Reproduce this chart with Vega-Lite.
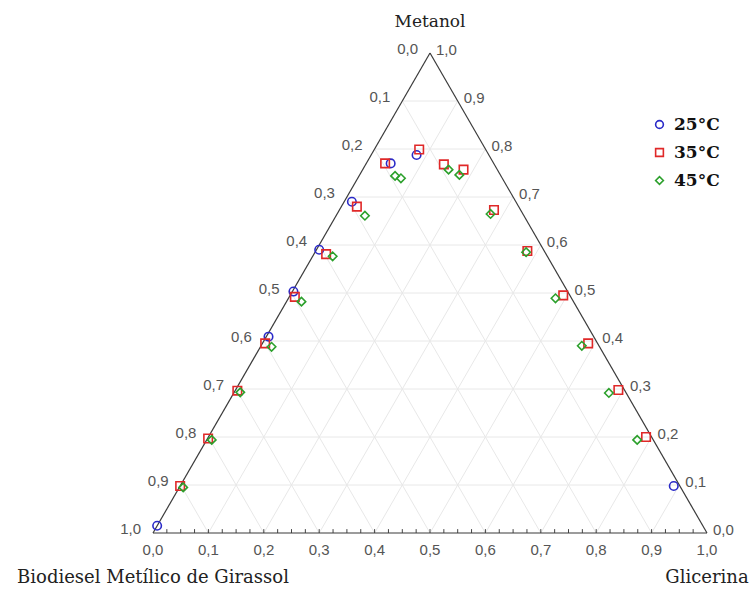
{
  "$schema": "https://vega.github.io/schema/vega-lite/v6.json",
  "width": 749,
  "height": 590,
  "autosize": {"type": "none"},
  "padding": 0,
  "background": "white",
  "config": {"view": {"stroke": null}},
  "datasets": {
    "points": [
      {"t": "25°C", "m": 0.015, "g": 0.0},
      {"t": "25°C", "m": 0.409, "g": 0.004},
      {"t": "25°C", "m": 0.503, "g": 0.002},
      {"t": "25°C", "m": 0.590, "g": 0.005},
      {"t": "25°C", "m": 0.690, "g": 0.014},
      {"t": "25°C", "m": 0.770, "g": 0.044},
      {"t": "25°C", "m": 0.7875, "g": 0.082},
      {"t": "25°C", "m": 0.098, "g": 0.891},
      {"t": "35°C", "m": 0.098, "g": 0.0},
      {"t": "35°C", "m": 0.197, "g": 0.001},
      {"t": "35°C", "m": 0.2965, "g": 0.004},
      {"t": "35°C", "m": 0.395, "g": 0.005},
      {"t": "35°C", "m": 0.492, "g": 0.010},
      {"t": "35°C", "m": 0.581, "g": 0.022},
      {"t": "35°C", "m": 0.680, "g": 0.028},
      {"t": "35°C", "m": 0.770, "g": 0.034},
      {"t": "35°C", "m": 0.799, "g": 0.081},
      {"t": "35°C", "m": 0.768, "g": 0.141},
      {"t": "35°C", "m": 0.757, "g": 0.182},
      {"t": "35°C", "m": 0.673, "g": 0.279},
      {"t": "35°C", "m": 0.5875, "g": 0.382},
      {"t": "35°C", "m": 0.495, "g": 0.493},
      {"t": "35°C", "m": 0.395, "g": 0.588},
      {"t": "35°C", "m": 0.298, "g": 0.691},
      {"t": "35°C", "m": 0.200, "g": 0.790},
      {"t": "45°C", "m": 0.095, "g": 0.007},
      {"t": "45°C", "m": 0.194, "g": 0.009},
      {"t": "45°C", "m": 0.293, "g": 0.011},
      {"t": "45°C", "m": 0.388, "g": 0.020},
      {"t": "45°C", "m": 0.482, "g": 0.027},
      {"t": "45°C", "m": 0.5765, "g": 0.036},
      {"t": "45°C", "m": 0.661, "g": 0.052},
      {"t": "45°C", "m": 0.744, "g": 0.065},
      {"t": "45°C", "m": 0.739, "g": 0.078},
      {"t": "45°C", "m": 0.757, "g": 0.155},
      {"t": "45°C", "m": 0.746, "g": 0.180},
      {"t": "45°C", "m": 0.6646, "g": 0.277},
      {"t": "45°C", "m": 0.585, "g": 0.381},
      {"t": "45°C", "m": 0.489, "g": 0.482},
      {"t": "45°C", "m": 0.390, "g": 0.579},
      {"t": "45°C", "m": 0.2917, "g": 0.677},
      {"t": "45°C", "m": 0.194, "g": 0.777}
    ],
    "grid": [
      {"m1": 0.1, "g1": 0, "m2": 0.1, "g2": 0.9},
      {"m1": 0.2, "g1": 0, "m2": 0.2, "g2": 0.8},
      {"m1": 0.3, "g1": 0, "m2": 0.3, "g2": 0.7},
      {"m1": 0.4, "g1": 0, "m2": 0.4, "g2": 0.6},
      {"m1": 0.5, "g1": 0, "m2": 0.5, "g2": 0.5},
      {"m1": 0.6, "g1": 0, "m2": 0.6, "g2": 0.4},
      {"m1": 0.7, "g1": 0, "m2": 0.7, "g2": 0.3},
      {"m1": 0.8, "g1": 0, "m2": 0.8, "g2": 0.2},
      {"m1": 0.9, "g1": 0, "m2": 0.9, "g2": 0.1},
      {"m1": 0, "g1": 0.1, "m2": 0.9, "g2": 0.1},
      {"m1": 0, "g1": 0.2, "m2": 0.8, "g2": 0.2},
      {"m1": 0, "g1": 0.3, "m2": 0.7, "g2": 0.3},
      {"m1": 0, "g1": 0.4, "m2": 0.6, "g2": 0.4},
      {"m1": 0, "g1": 0.5, "m2": 0.5, "g2": 0.5},
      {"m1": 0, "g1": 0.6, "m2": 0.4, "g2": 0.6},
      {"m1": 0, "g1": 0.7, "m2": 0.3, "g2": 0.7},
      {"m1": 0, "g1": 0.8, "m2": 0.2, "g2": 0.8},
      {"m1": 0, "g1": 0.9, "m2": 0.1, "g2": 0.9},
      {"m1": 0, "g1": 0.9, "m2": 0.9, "g2": 0},
      {"m1": 0, "g1": 0.8, "m2": 0.8, "g2": 0},
      {"m1": 0, "g1": 0.7, "m2": 0.7, "g2": 0},
      {"m1": 0, "g1": 0.6, "m2": 0.6, "g2": 0},
      {"m1": 0, "g1": 0.5, "m2": 0.5, "g2": 0},
      {"m1": 0, "g1": 0.4, "m2": 0.4, "g2": 0},
      {"m1": 0, "g1": 0.3, "m2": 0.3, "g2": 0},
      {"m1": 0, "g1": 0.2, "m2": 0.2, "g2": 0},
      {"m1": 0, "g1": 0.1, "m2": 0.1, "g2": 0}
    ],
    "edges": [
      {"m1": 0, "g1": 0, "m2": 1, "g2": 0},
      {"m1": 0, "g1": 0, "m2": 0, "g2": 1},
      {"m1": 0, "g1": 1, "m2": 1, "g2": 0}
    ],
    "minor": [
      {"g": 0.025}, {"g": 0.05}, {"g": 0.075}, {"g": 0.1}, {"g": 0.125}, {"g": 0.15}, {"g": 0.175}, {"g": 0.2},
      {"g": 0.225}, {"g": 0.25}, {"g": 0.275}, {"g": 0.3}, {"g": 0.325}, {"g": 0.35}, {"g": 0.375}, {"g": 0.4},
      {"g": 0.425}, {"g": 0.45}, {"g": 0.475}, {"g": 0.5}, {"g": 0.525}, {"g": 0.55}, {"g": 0.575}, {"g": 0.6},
      {"g": 0.625}, {"g": 0.65}, {"g": 0.675}, {"g": 0.7}, {"g": 0.725}, {"g": 0.75}, {"g": 0.775}, {"g": 0.8},
      {"g": 0.825}, {"g": 0.85}, {"g": 0.875}, {"g": 0.9}, {"g": 0.925}, {"g": 0.95}, {"g": 0.975}
    ],
    "ticks": [
      {"k": 0.0, "label": "0,0"},
      {"k": 0.1, "label": "0,1"},
      {"k": 0.2, "label": "0,2"},
      {"k": 0.3, "label": "0,3"},
      {"k": 0.4, "label": "0,4"},
      {"k": 0.5, "label": "0,5"},
      {"k": 0.6, "label": "0,6"},
      {"k": 0.7, "label": "0,7"},
      {"k": 0.8, "label": "0,8"},
      {"k": 0.9, "label": "0,9"},
      {"k": 1.0, "label": "1,0"}
    ]
  },
  "layer": [
    {
      "data": {"name": "grid"},
      "transform": [
        {"calculate": "datum.g1 + datum.m1/2", "as": "xa"},
        {"calculate": "datum.m1*0.8660254", "as": "ya"},
        {"calculate": "datum.g2 + datum.m2/2", "as": "xb"},
        {"calculate": "datum.m2*0.8660254", "as": "yb"}
      ],
      "mark": {"type": "rule", "color": "#e8e8e8", "strokeWidth": 1},
      "encoding": {
        "x": {"field": "xa", "type": "quantitative", "scale": {"domain": [0, 1], "range": [153, 707], "zero": false, "nice": false}, "axis": null},
        "y": {"field": "ya", "type": "quantitative", "scale": {"domain": [0, 0.8660254], "range": [533, 53], "zero": false, "nice": false}, "axis": null},
        "x2": {"field": "xb"},
        "y2": {"field": "yb"}
      }
    },
    {
      "data": {"name": "minor"},
      "mark": {"type": "rule", "color": "#444444", "strokeWidth": 1},
      "encoding": {
        "x": {"field": "g", "type": "quantitative"},
        "y": {"datum": 0, "type": "quantitative"},
        "y2": {"datum": 0.007}
      }
    },
    {
      "data": {"name": "edges"},
      "transform": [
        {"calculate": "datum.g1 + datum.m1/2", "as": "xa"},
        {"calculate": "datum.m1*0.8660254", "as": "ya"},
        {"calculate": "datum.g2 + datum.m2/2", "as": "xb"},
        {"calculate": "datum.m2*0.8660254", "as": "yb"}
      ],
      "mark": {"type": "rule", "color": "#3a3a3a", "strokeWidth": 1.2},
      "encoding": {
        "x": {"field": "xa", "type": "quantitative"},
        "y": {"field": "ya", "type": "quantitative"},
        "x2": {"field": "xb"},
        "y2": {"field": "yb"}
      }
    },
    {
      "data": {"name": "points"},
      "transform": [
        {"calculate": "datum.g + datum.m/2", "as": "px"},
        {"calculate": "datum.m*0.8660254", "as": "py"}
      ],
      "mark": {"type": "point", "filled": false, "size": 72, "strokeWidth": 1.6, "opacity": 1},
      "encoding": {
        "x": {"field": "px", "type": "quantitative"},
        "y": {"field": "py", "type": "quantitative"},
        "color": {
          "field": "t", "type": "nominal",
          "scale": {"domain": ["25°C", "35°C", "45°C"], "range": ["#2a2ac8", "#e02828", "#2ca02c"]},
          "legend": {
            "orient": "none", "legendX": 651, "legendY": 116, "title": null,
            "labelFont": "DejaVu Serif", "labelFontWeight": "bold", "labelFontSize": 17, "labelColor": "#111111",
            "symbolSize": 60, "symbolStrokeWidth": 1.6, "rowPadding": 10, "labelOffset": 6
          }
        },
        "shape": {
          "field": "t", "type": "nominal",
          "scale": {"domain": ["25°C", "35°C", "45°C"], "range": ["circle", "square", "diamond"]},
          "legend": {
            "orient": "none", "legendX": 651, "legendY": 116, "title": null,
            "labelFont": "DejaVu Serif", "labelFontWeight": "bold", "labelFontSize": 17, "labelColor": "#111111",
            "symbolSize": 60, "symbolStrokeWidth": 1.6, "rowPadding": 10, "labelOffset": 6
          }
        }
      }
    },
    {
      "data": {"name": "ticks"},
      "mark": {"type": "text", "font": "Liberation Sans", "fontSize": 15, "color": "#555555", "align": "center", "baseline": "middle", "dy": 17},
      "encoding": {
        "x": {"field": "k", "type": "quantitative"},
        "y": {"datum": 0, "type": "quantitative"},
        "text": {"field": "label"}
      }
    },
    {
      "data": {"name": "ticks"},
      "transform": [
        {"calculate": "(1 - datum.k)/2", "as": "px"},
        {"calculate": "(1 - datum.k)*0.8660254", "as": "py"}
      ],
      "mark": {"type": "text", "font": "Liberation Sans", "fontSize": 15, "color": "#555555", "align": "right", "baseline": "middle", "dx": -12, "dy": -4},
      "encoding": {
        "x": {"field": "px", "type": "quantitative"},
        "y": {"field": "py", "type": "quantitative"},
        "text": {"field": "label"}
      }
    },
    {
      "data": {"name": "ticks"},
      "transform": [
        {"calculate": "1 - datum.k/2", "as": "px"},
        {"calculate": "datum.k*0.8660254", "as": "py"}
      ],
      "mark": {"type": "text", "font": "Liberation Sans", "fontSize": 15, "color": "#555555", "align": "left", "baseline": "middle", "dx": 6, "dy": -3},
      "encoding": {
        "x": {"field": "px", "type": "quantitative"},
        "y": {"field": "py", "type": "quantitative"},
        "text": {"field": "label"}
      }
    },
    {
      "data": {"values": [{"m": 1, "g": 0, "label": "Metanol"}]},
      "transform": [
        {"calculate": "datum.g + datum.m/2", "as": "px"},
        {"calculate": "datum.m*0.8660254", "as": "py"}
      ],
      "mark": {"type": "text", "font": "DejaVu Serif", "fontSize": 17, "color": "#222222", "align": "center", "baseline": "middle", "dy": -31},
      "encoding": {
        "x": {"field": "px", "type": "quantitative"},
        "y": {"field": "py", "type": "quantitative"},
        "text": {"field": "label"}
      }
    },
    {
      "data": {"values": [{"m": 0, "g": 0, "label": "Biodiesel Metílico de Girassol"}, {"m": 0, "g": 1, "label": "Glicerina"}]},
      "transform": [
        {"calculate": "datum.g + datum.m/2", "as": "px"},
        {"calculate": "datum.m*0.8660254", "as": "py"}
      ],
      "mark": {"type": "text", "font": "DejaVu Serif", "fontSize": 18, "color": "#222222", "align": "center", "baseline": "middle", "dy": 45},
      "encoding": {
        "x": {"field": "px", "type": "quantitative"},
        "y": {"field": "py", "type": "quantitative"},
        "text": {"field": "label"}
      }
    }
  ]
}
